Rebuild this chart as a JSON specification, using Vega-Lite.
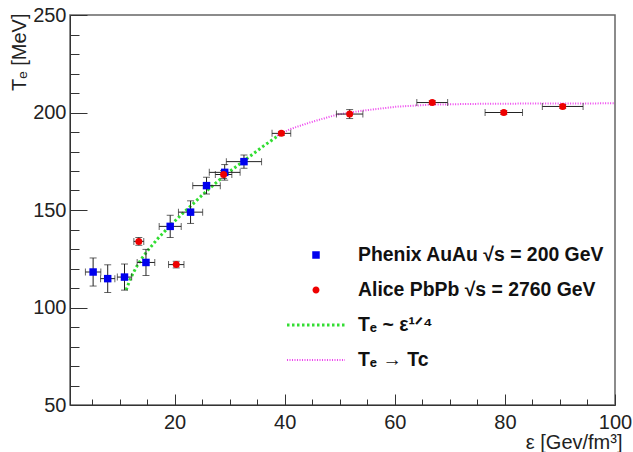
{
  "$schema": "https://vega.github.io/schema/vega-lite/v6.json",
  "width": 545,
  "height": 390,
  "autosize": {"type": "none"},
  "padding": {"left": 70, "top": 15, "right": 18, "bottom": 47},
  "background": "white",
  "config": {
    "view": {"stroke": "#666666", "strokeWidth": 1.5},
    "font": "Liberation Sans"
  },
  "datasets": {
    "points": [
      {"series": "Phenix AuAu √s = 200 GeV", "e": 5.2, "ex": 1.4, "T": 118.2, "eT": 7.2},
      {"series": "Phenix AuAu √s = 200 GeV", "e": 7.85, "ex": 1.3, "T": 114.8, "eT": 7.1},
      {"series": "Phenix AuAu √s = 200 GeV", "e": 10.9, "ex": 1.3, "T": 115.6, "eT": 6.7},
      {"series": "Phenix AuAu √s = 200 GeV", "e": 14.8, "ex": 1.6, "T": 123.1, "eT": 6.7},
      {"series": "Phenix AuAu √s = 200 GeV", "e": 19.2, "ex": 2.0, "T": 141.6, "eT": 5.7},
      {"series": "Phenix AuAu √s = 200 GeV", "e": 22.9, "ex": 2.2, "T": 148.9, "eT": 5.8},
      {"series": "Phenix AuAu √s = 200 GeV", "e": 25.8, "ex": 2.5, "T": 162.5, "eT": 4.3},
      {"series": "Phenix AuAu √s = 200 GeV", "e": 29.1, "ex": 2.8, "T": 169.3, "eT": 4.0},
      {"series": "Phenix AuAu √s = 200 GeV", "e": 32.6, "ex": 3.2, "T": 174.8, "eT": 3.4},
      {"series": "Alice PbPb √s = 2760 GeV", "e": 13.5, "ex": 0.9, "T": 133.9, "eT": 2.0},
      {"series": "Alice PbPb √s = 2760 GeV", "e": 20.3, "ex": 1.4, "T": 122.0, "eT": 1.7},
      {"series": "Alice PbPb √s = 2760 GeV", "e": 28.9, "ex": 1.5, "T": 168.2, "eT": 2.0},
      {"series": "Alice PbPb √s = 2760 GeV", "e": 39.4, "ex": 1.7, "T": 189.3, "eT": 1.0},
      {"series": "Alice PbPb √s = 2760 GeV", "e": 51.8, "ex": 2.4, "T": 199.2, "eT": 2.3},
      {"series": "Alice PbPb √s = 2760 GeV", "e": 66.8, "ex": 2.8, "T": 205.1, "eT": 1.0},
      {"series": "Alice PbPb √s = 2760 GeV", "e": 79.8, "ex": 3.4, "T": 200.0, "eT": 1.0},
      {"series": "Alice PbPb √s = 2760 GeV", "e": 90.5, "ex": 3.7, "T": 203.1, "eT": 1.0}
    ],
    "curves": [
      {"series": "Tₑ ~ ε¹ᐟ⁴", "e": 11.2, "T": 109.0},
      {"series": "Tₑ ~ ε¹ᐟ⁴", "e": 12.0, "T": 115.0},
      {"series": "Tₑ ~ ε¹ᐟ⁴", "e": 13.0, "T": 120.5},
      {"series": "Tₑ ~ ε¹ᐟ⁴", "e": 14.0, "T": 125.0},
      {"series": "Tₑ ~ ε¹ᐟ⁴", "e": 15.2, "T": 129.5},
      {"series": "Tₑ ~ ε¹ᐟ⁴", "e": 17.0, "T": 135.5},
      {"series": "Tₑ ~ ε¹ᐟ⁴", "e": 19.2, "T": 142.0},
      {"series": "Tₑ ~ ε¹ᐟ⁴", "e": 21.0, "T": 147.0},
      {"series": "Tₑ ~ ε¹ᐟ⁴", "e": 23.1, "T": 152.5},
      {"series": "Tₑ ~ ε¹ᐟ⁴", "e": 25.9, "T": 160.0},
      {"series": "Tₑ ~ ε¹ᐟ⁴", "e": 29.2, "T": 168.0},
      {"series": "Tₑ ~ ε¹ᐟ⁴", "e": 32.5, "T": 175.0},
      {"series": "Tₑ ~ ε¹ᐟ⁴", "e": 36.0, "T": 182.5},
      {"series": "Tₑ ~ ε¹ᐟ⁴", "e": 39.4, "T": 189.3},
      {"series": "Tₑ → Tc", "e": 38.6, "T": 188.1},
      {"series": "Tₑ → Tc", "e": 41.0, "T": 191.5},
      {"series": "Tₑ → Tc", "e": 44.6, "T": 194.9},
      {"series": "Tₑ → Tc", "e": 49.5, "T": 198.9},
      {"series": "Tₑ → Tc", "e": 54.3, "T": 201.0},
      {"series": "Tₑ → Tc", "e": 60.4, "T": 203.0},
      {"series": "Tₑ → Tc", "e": 66.5, "T": 204.0},
      {"series": "Tₑ → Tc", "e": 73.7, "T": 204.4},
      {"series": "Tₑ → Tc", "e": 85.0, "T": 204.6},
      {"series": "Tₑ → Tc", "e": 100.0, "T": 204.7}
    ]
  },
  "encoding": {
    "x": {
      "field": "e", "type": "quantitative",
      "scale": {"domain": [1, 100], "nice": false, "zero": false},
      "axis": {
        "title": "ε [Gev/fm³]",
        "values": [5,10,15,20,25,30,35,40,45,50,55,60,65,70,75,80,85,90,95,100],
        "labelExpr": "datum.value % 20 === 0 ? datum.label : ''",
        "tickSize": {"condition": {"test": "datum.value % 20 === 0", "value": -11}, "value": -6},
        "labelPadding": 18,
        "labelFontSize": 20,
        "labelColor": "#222222",
        "labelFont": "Liberation Sans",
        "labelFlush": false,
        "labelOverlap": false,
        "labelBound": false,
        "tickColor": "#333333",
        "domainColor": "#333333",
        "grid": false,
        "titleFont": "Liberation Sans",
        "titleFontSize": 20,
        "titleFontWeight": "normal",
        "titleColor": "#222222",
        "titleAnchor": "end",
        "titleAlign": "right",
        "titleBaseline": "alphabetic",
        "titleX": 552,
        "titleY": 43
      }
    },
    "y": {
      "field": "T", "type": "quantitative",
      "scale": {"domain": [50, 250], "nice": false, "zero": false},
      "axis": {
        "title": "Tₑ [MeV]",
        "values": [50,60,70,80,90,100,110,120,130,140,150,160,170,180,190,200,210,220,230,240,250],
        "labelExpr": "datum.value % 50 === 0 ? datum.label : ''",
        "tickSize": {"condition": {"test": "datum.value % 50 === 0", "value": -17}, "value": -9},
        "labelPadding": 21,
        "labelFontSize": 20,
        "labelColor": "#222222",
        "labelFont": "Liberation Sans",
        "labelFlush": false,
        "labelOverlap": false,
        "labelBound": false,
        "tickColor": "#333333",
        "domainColor": "#333333",
        "grid": false,
        "titleFont": "Liberation Sans",
        "titleFontSize": 20,
        "titleFontWeight": "normal",
        "titleColor": "#222222",
        "titleAnchor": "end",
        "titleAlign": "right",
        "titleBaseline": "alphabetic",
        "titleX": -45,
        "titleY": -2
      }
    },
    "color": {
      "field": "series", "type": "nominal",
      "scale": {
        "domain": ["Phenix AuAu √s = 200 GeV", "Alice PbPb √s = 2760 GeV", "Tₑ ~ ε¹ᐟ⁴", "Tₑ → Tc"],
        "range": ["#0000ee", "#ee0000", "#33dd33", "#ee44ee"]
      },
      "legend": {
        "orient": "none",
        "legendX": 234.5,
        "legendY": 228.5,
        "title": null,
        "padding": 0,
        "symbolType": "stroke",
        "symbolSize": 400,
        "labelOffset": 30.5,
        "rowPadding": 14,
        "labelFont": "Liberation Sans",
        "labelFontWeight": "bold",
        "labelFontSize": 19.4,
        "labelColor": "#111111",
        "labelLimit": 0,
        "encode": {
          "symbols": {
            "update": {
              "shape": {"signal": "datum.index === 0 ? 'M-0.375,-0.375L0.375,-0.375L0.375,0.375L-0.375,0.375Z' : datum.index === 1 ? 'M-0.35,0A0.35,0.35,0,1,1,0.35,0A0.35,0.35,0,1,1,-0.35,0Z' : 'M-2.9,0L2.9,0'"},
              "fill": {"signal": "datum.index === 0 ? '#0000ee' : datum.index === 1 ? '#ee0000' : 'transparent'"},
              "stroke": {"signal": "datum.index === 2 ? '#33dd33' : datum.index === 3 ? '#ee44ee' : 'transparent'"},
              "strokeOpacity": {"signal": "datum.index >= 2 ? 1 : 0"},
              "strokeWidth": {"signal": "(datum.index === 3 ? 2 : 3)"},
              "strokeDash": {"signal": "datum.index === 2 ? [2.5, 2.5] : [1, 1.5]"},
              "opacity": {"value": 1}
            }
          }
        }
      }
    }
  },
  "layer": [
    {
      "data": {"name": "curves"},
      "transform": [{"filter": "datum.series === 'Tₑ ~ ε¹ᐟ⁴'"}],
      "mark": {"type": "line", "strokeWidth": 3, "strokeDash": [2.5, 2.5], "clip": true}
    },
    {
      "data": {"name": "curves"},
      "transform": [{"filter": "datum.series === 'Tₑ → Tc'"}],
      "mark": {"type": "line", "strokeWidth": 2, "strokeDash": [1, 1.5], "clip": true}
    },
    {
      "data": {"name": "points"},
      "mark": {"type": "errorbar", "thickness": 1, "ticks": {"size": 7, "thickness": 1, "color": "#222222"}},
      "encoding": {
        "xError": {"field": "ex"},
        "color": {"value": "#222222"}
      }
    },
    {
      "data": {"name": "points"},
      "mark": {"type": "errorbar", "thickness": 1, "ticks": {"size": 7, "thickness": 1, "color": "#222222"}},
      "encoding": {
        "yError": {"field": "eT"},
        "color": {"value": "#222222"}
      }
    },
    {
      "data": {"name": "points"},
      "mark": {"type": "point", "filled": true, "opacity": 1},
      "encoding": {
        "shape": {
          "field": "series", "type": "nominal",
          "scale": {"domain": ["Phenix AuAu √s = 200 GeV", "Alice PbPb √s = 2760 GeV"], "range": ["square", "circle"]},
          "legend": null
        },
        "size": {
          "field": "series", "type": "nominal",
          "scale": {"domain": ["Phenix AuAu √s = 200 GeV", "Alice PbPb √s = 2760 GeV"], "range": [56, 49]},
          "legend": null
        }
      }
    }
  ]
}
